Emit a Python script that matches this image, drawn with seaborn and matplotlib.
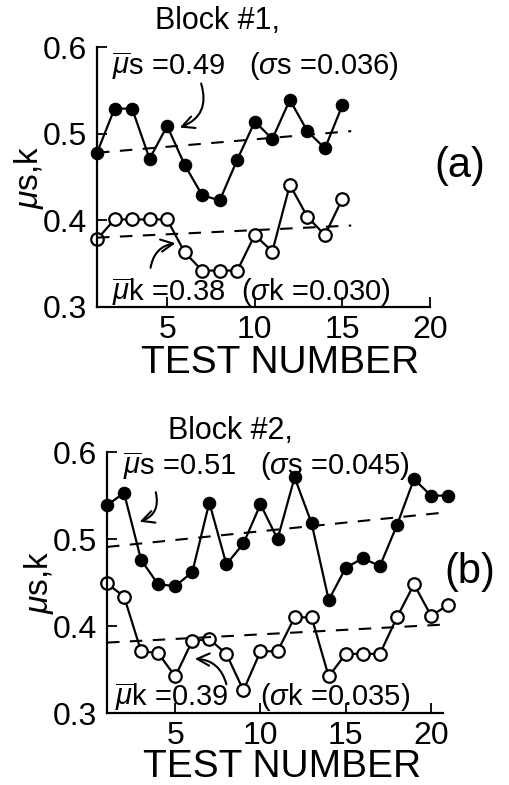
import matplotlib
matplotlib.use("Agg")
import matplotlib.pyplot as plt
import seaborn as sns

# Block #1 (a)
test_a = list(range(1, 16))
mu_s_a = [0.478, 0.529, 0.529, 0.471, 0.509, 0.464, 0.429, 0.423, 0.470,
          0.514, 0.494, 0.539, 0.503, 0.483, 0.533]
mu_k_a = [0.378, 0.401, 0.401, 0.401, 0.401, 0.363, 0.342, 0.342, 0.342,
          0.383, 0.364, 0.441, 0.404, 0.383, 0.425]
trend_x_a = [1, 15.5]
trend_s_a = [0.478, 0.503]
trend_k_a = [0.380, 0.394]

# Block #2 (b)
test_b = list(range(1, 22))
mu_s_b = [0.539, 0.553, 0.476, 0.448, 0.446, 0.462, 0.542, 0.471, 0.495,
          0.540, 0.500, 0.571, 0.518, 0.430, 0.467, 0.478, 0.469, 0.516,
          0.569, 0.550, 0.550]
mu_k_b = [0.449, 0.434, 0.371, 0.369, 0.342, 0.383, 0.385, 0.368, 0.326,
          0.371, 0.371, 0.410, 0.410, 0.342, 0.368, 0.368, 0.368, 0.410,
          0.448, 0.412, 0.424]
trend_x_b = [1, 21]
trend_s_b = [0.491, 0.531]
trend_k_b = [0.381, 0.402]

y_ticks = [0.3, 0.4, 0.5, 0.6]
y_ticklabels = ["0.3", "0.4", "0.5", "0.6"]
x_ticks = [5, 10, 15, 20]

sns.set_style("ticks")
plt.rcParams["font.family"] = ["Liberation Sans", "DejaVu Sans"]
plt.rcParams["mathtext.fontset"] = "custom"
plt.rcParams["mathtext.rm"] = "Liberation Sans"
plt.rcParams["mathtext.it"] = "Liberation Sans:italic"
plt.rcParams["text.color"] = "k"
plt.rcParams["axes.labelcolor"] = "k"

fig = plt.figure(figsize=(5.09, 7.85), dpi=100)
ax_a = fig.add_axes([0.1906, 0.609, 0.6544, 0.331])
ax_b = fig.add_axes([0.2102, 0.0917, 0.6601, 0.3323])


def draw_panel(ax, x, ys, yk, tx, ts, tk, xmax, label_xy):
    sns.lineplot(x=x, y=ys, ax=ax, color="k", linewidth=1.6, marker="o",
                 markersize=9, markerfacecolor="k", markeredgecolor="k")
    sns.lineplot(x=x, y=yk, ax=ax, color="k", linewidth=1.6, marker="o",
                 markersize=9, markerfacecolor="white", markeredgecolor="k",
                 markeredgewidth=1.6)
    sns.lineplot(x=tx, y=ts, ax=ax, color="k", linewidth=1.5,
                 linestyle=(0, (6, 5)))
    sns.lineplot(x=tx, y=tk, ax=ax, color="k", linewidth=1.5,
                 linestyle=(0, (6, 5)))
    ax.set_xlim(1, xmax)
    ax.set_ylim(0.3, 0.6)
    for ln in ax.lines:
        ln.set_clip_on(False)
    ax.set_yticks(y_ticks)
    ax.set_yticklabels(y_ticklabels)
    ax.set_xticks(x_ticks)
    ax.tick_params(axis="both", direction="in", length=7, width=1.3,
                   labelsize=23, color="k", labelcolor="k")
    ax.tick_params(axis="y", pad=7)
    ax.tick_params(axis="x", pad=6)
    sns.despine(ax=ax)
    for s in ("left", "bottom"):
        ax.spines[s].set_linewidth(1.6)
        ax.spines[s].set_color("k")
    ax.set_xlabel("TEST NUMBER", fontsize=28)
    ax.xaxis.set_label_coords(*label_xy)
    ax.xaxis.label.set_va("baseline")
    ax.set_ylabel(r"$\mu$s,k", fontsize=24, labelpad=-2)


draw_panel(ax_a, test_a, mu_s_a, mu_k_a, trend_x_a, trend_s_a, trend_k_a, 20,
           (0.55, -0.254))
draw_panel(ax_b, test_b, mu_s_b, mu_k_b, trend_x_b, trend_s_b, trend_k_b, 20.7,
           (0.52, -0.245))

arrow = dict(arrowstyle="->", color="k", lw=1.5, mutation_scale=22)

# panel (a) annotations
ax_a.text(7.86, 0.630, "Block #1,", fontsize=22, ha="center", va="center",
          clip_on=False)
ax_a.text(1.86, 0.578, r"$\overline{\mu}$s =0.49   ($\sigma$s =0.036)",
          fontsize=21, ha="left", va="center", clip_on=False)
ax_a.text(1.86, 0.3166, r"$\overline{\mu}$k =0.38  ($\sigma$k =0.030)",
          fontsize=21, ha="left", va="center", clip_on=False)
ax_a.text(21.7, 0.463, "(a)", fontsize=30, ha="center", va="center",
          clip_on=False)
ax_a.annotate("", xy=(5.57, 0.506), xytext=(6.89, 0.561), arrowprops=dict(
    arrow, connectionstyle="arc3,rad=-0.5"))
ax_a.annotate("", xy=(5.63, 0.374), xytext=(4.03, 0.342), arrowprops=dict(
    arrow, connectionstyle="arc3,rad=-0.4"))

# panel (b) annotations
ax_b.text(8.21, 0.624, "Block #2,", fontsize=22, ha="center", va="center",
          clip_on=False)
ax_b.text(1.94, 0.584, r"$\overline{\mu}$s =0.51   ($\sigma$s =0.045)",
          fontsize=21, ha="left", va="center", clip_on=False)
ax_b.text(1.47, 0.318, r"$\overline{\mu}$k =0.39    ($\sigma$k =0.035)",
          fontsize=21, ha="left", va="center", clip_on=False)
ax_b.text(22.3, 0.4625, "(b)", fontsize=30, ha="center", va="center",
          clip_on=False)
ax_b.annotate("", xy=(2.76, 0.519), xytext=(3.82, 0.557), arrowprops=dict(
    arrow, connectionstyle="arc3,rad=-0.5"))
ax_b.annotate("", xy=(5.99, 0.3625), xytext=(8.04, 0.330), arrowprops=dict(
    arrow, connectionstyle="arc3,rad=0.4"))

fig.savefig("out.png", dpi=100)
